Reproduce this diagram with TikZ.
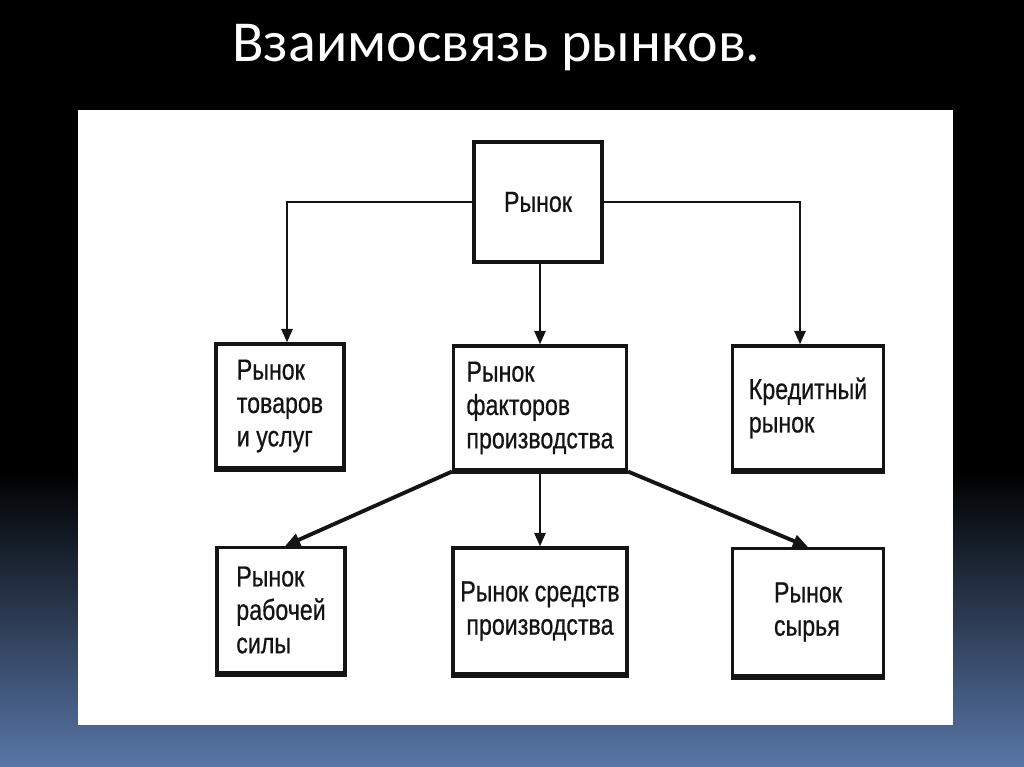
\documentclass[tikz,border=0pt]{standalone}
\usepackage{fontspec}
\newfontfamily\narrow{Liberation Sans}[FakeStretch=0.8,FakeBold=0.6]
\newfontfamily\titlefont{Carlito}
\usetikzlibrary{arrows.meta}
\definecolor{bgblue}{RGB}{88,118,166}
\definecolor{ink}{RGB}{20,20,20}
\tikzset{
  box/.style={draw=ink, line width=1.8pt, rectangle, align=left, inner sep=0pt,
    font=\narrow\fontsize{16.5}{19}\selectfont, text=ink},
  bot/.style={draw=ink, line width=3pt},
  arr/.style={draw=ink, line width=1.5pt, -{Triangle[length=0.27cm,width=0.22cm]}},
  darr/.style={draw=ink, line width=2.2pt, -{Triangle[length=0.3cm,width=0.25cm]}},
}
\begin{document}
\begin{tikzpicture}[x=0.02cm,y=-0.02cm]
\useasboundingbox (0,0) rectangle (1024,767);
\fill[black] (0,0) rectangle (1024,472);
\shade[top color=black, bottom color=bgblue] (0,471) rectangle (1024,767);
\fill[white] (78,110) rectangle (953,725);
\node[text=white, font=\titlefont\fontsize{33}{38}\selectfont, anchor=base west] (title) at (226,62) {Взаимосвязь рынков.};

\node[box, minimum width=2.56cm, minimum height=2.4cm] (r) at (538,202) {Рынок};
\node[box, minimum width=2.56cm, minimum height=2.48cm] (tov) at (280,406) {Рынок\\товаров\\и услуг};
\node[box, minimum width=3.46cm, minimum height=2.48cm] (fac) at (540,408) {Рынок\\факторов\\производства};
\node[box, minimum width=3.02cm, minimum height=2.48cm] (cred) at (808,408) {Кредитный\\рынок};
\node[box, minimum width=2.56cm, minimum height=2.5cm] (lab) at (281,610) {Рынок\\рабочей\\силы};
\node[box, minimum width=3.48cm, minimum height=2.52cm, align=center] (sred) at (540,611) {Рынок средств\\производства};
\node[box, minimum width=3.02cm, minimum height=2.54cm] (syr) at (808,612) {Рынок\\сырья};

\foreach \n in {tov,fac,cred,lab,sred,syr}
  \draw[bot] (\n.south west) -- (\n.south east);

\draw[arr] (r.west) -| ([xshift=0.14cm]tov.north);
\draw[arr] (r.east) -| ([xshift=-0.16cm]cred.north);
\draw[arr] (fac.north |- r.south) -- (fac.north);
\draw[darr] (fac.south west) -- ([xshift=0.08cm]lab.north);
\draw[arr] (fac.south) -- (sred.north);
\draw[darr] (fac.south east) -- (syr.north);
\end{tikzpicture}
\end{document}
